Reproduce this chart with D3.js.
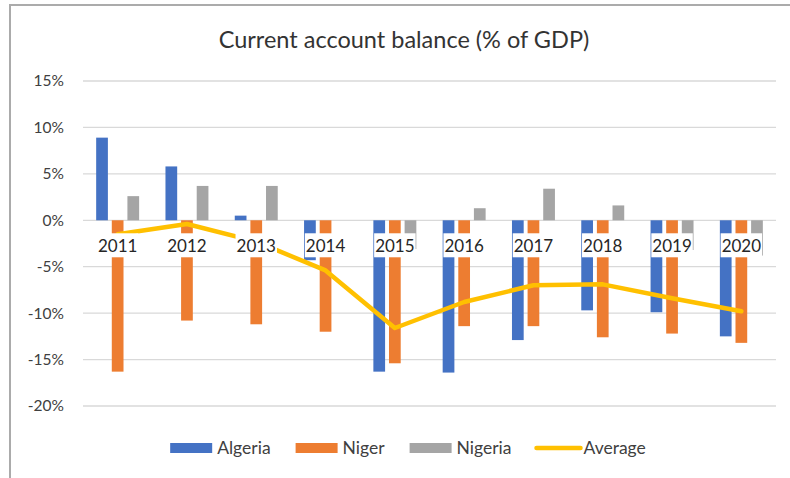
<!DOCTYPE html>
<html>
<head>
<meta charset="utf-8">
<script src="https://cdn.jsdelivr.net/npm/d3@7"></script>
<style>
  body { margin: 0; background: #fff; }
  text { font-family: Lato, "Open Sans", sans-serif; }
</style>
</head>
<body>
<script>
// data (% of GDP)
var years = ['2011','2012','2013','2014','2015','2016','2017','2018','2019','2020'];
var algeria = [8.9, 5.8, 0.5, -4.3, -16.3, -16.4, -12.9, -9.7, -9.9, -12.5];
var niger   = [-16.3, -10.8, -11.2, -12.0, -15.4, -11.4, -11.4, -12.6, -12.2, -13.2];
var nigeria = [2.6, 3.7, 3.7, 0.0, -3.1, 1.3, 3.4, 1.6, -3.2, -3.8];
var average = [-1.5, -0.4, -2.3, -5.4, -11.6, -8.8, -7.0, -6.9, -8.4, -9.8];
var yTicks = [-20, -15, -10, -5, 0, 5, 10, 15];
var seriesNames = ['Algeria', 'Niger', 'Nigeria'];
var colors = {Algeria: '#4472C4', Niger: '#ED7D31', Nigeria: '#A5A5A5', Average: '#FFC000'};

var W = 790, H = 478;
var plotL = 83, plotR = 776, plotT = 81, plotB = 406;

var svg = d3.select('body').append('svg').attr('width', W).attr('height', H);

// frame (only top and left edges show in the crop)
svg.append('path')
  .attr('d', 'M10,' + H + 'V5H' + W)
  .attr('fill', 'none').attr('stroke', '#ababab').attr('stroke-width', 2);

svg.append('text')
  .attr('x', 404).attr('y', 48)
  .attr('text-anchor', 'middle')
  .attr('font-size', 23.5).attr('fill', '#333')
  .text('Current account balance (% of GDP)');

var y = d3.scaleLinear().domain([-20, 15]).range([plotB, plotT]);
var x0 = d3.scaleBand().domain(years).range([plotL, plotR]).paddingInner(0.38).paddingOuter(0.19);
var x1 = d3.scaleBand().domain(seriesNames).range([0, x0.bandwidth()]).paddingInner(0.25);

// gridlines
svg.append('g').selectAll('line')
  .data(yTicks)
  .enter().append('line')
    .attr('x1', plotL).attr('x2', plotR)
    .attr('y1', function(d) { return y(d); })
    .attr('y2', function(d) { return y(d); })
    .attr('stroke', '#d9d9d9').attr('stroke-width', 1.3);

// y labels
var yAxis = svg.append('g')
  .attr('transform', 'translate(' + (plotL - 19) + ',0)')
  .call(d3.axisLeft(y).tickValues(yTicks).tickSize(0).tickPadding(0).tickFormat(function(d) { return d + '%'; }));
yAxis.select('.domain').remove();
yAxis.selectAll('text').attr('font-size', 15.5).attr('fill', '#404040').style('font-family', 'Lato');

// bars
var rows = years.map(function(yr, i) {
  return {year: yr, values: [algeria[i], niger[i], nigeria[i]]};
});
var groups = svg.append('g').selectAll('g')
  .data(rows)
  .enter().append('g')
    .attr('transform', function(d) { return 'translate(' + x0(d.year) + ',0)'; });
groups.selectAll('rect')
  .data(function(d) { return d.values.map(function(v, j) { return {name: seriesNames[j], v: v}; }); })
  .enter().append('rect')
    .attr('x', function(d) { return x1(d.name); })
    .attr('width', x1.bandwidth())
    .attr('y', function(d) { return y(Math.max(0, d.v)); })
    .attr('height', function(d) { return Math.abs(y(d.v) - y(0)); })
    .attr('fill', function(d) { return colors[d.name]; });

// average line
var line = d3.line()
  .x(function(d, i) { return x0(years[i]) + x0.bandwidth() / 2; })
  .y(function(d) { return y(d); });
svg.append('path')
  .datum(average)
  .attr('d', line)
  .attr('fill', 'none')
  .attr('stroke', colors.Average)
  .attr('stroke-width', 4.5)
  .attr('stroke-linejoin', 'round')
  .attr('stroke-linecap', 'round');

// category labels sit on the zero line with white boxes
var xAxis = svg.append('g')
  .attr('transform', 'translate(0,' + y(0) + ')')
  .call(d3.axisBottom(x0).tickSize(0).tickPadding(0));
xAxis.select('.domain').remove();
xAxis.selectAll('.tick text')
  .attr('font-size', 17).attr('fill', '#262626').style('font-family', 'Lato')
  .attr('y', 32).attr('dy', 0);
xAxis.selectAll('.tick').each(function() {
  var t = d3.select(this).select('text');
  var w = t.node().getComputedTextLength();
  d3.select(this).insert('rect', 'text')
    .attr('x', -w / 2 - 1).attr('width', w + 2)
    .attr('y', 13).attr('height', 24)
    .attr('fill', '#fff');
});

// legend
var legendItems = ['Algeria', 'Niger', 'Nigeria', 'Average'];
var legend = svg.append('g');
var lx = 0;
legendItems.forEach(function(name) {
  var g = legend.append('g').attr('transform', 'translate(' + lx + ',0)');
  if (name === 'Average') {
    g.append('line').attr('x1', 0).attr('x2', 44).attr('y1', 448).attr('y2', 448)
      .attr('stroke', colors[name]).attr('stroke-width', 4.5).attr('stroke-linecap', 'round');
  } else {
    g.append('rect').attr('x', 0).attr('y', 443).attr('width', 42).attr('height', 10)
      .attr('fill', colors[name]);
  }
  var t = g.append('text').attr('x', 47).attr('y', 454)
    .attr('font-size', 17.5).attr('fill', '#404040').text(name);
  lx += 47 + t.node().getComputedTextLength() + 25;
});
var lw = lx - 25;
legend.attr('transform', 'translate(' + (408 - lw / 2) + ',0)');
</script>
</body>
</html>
